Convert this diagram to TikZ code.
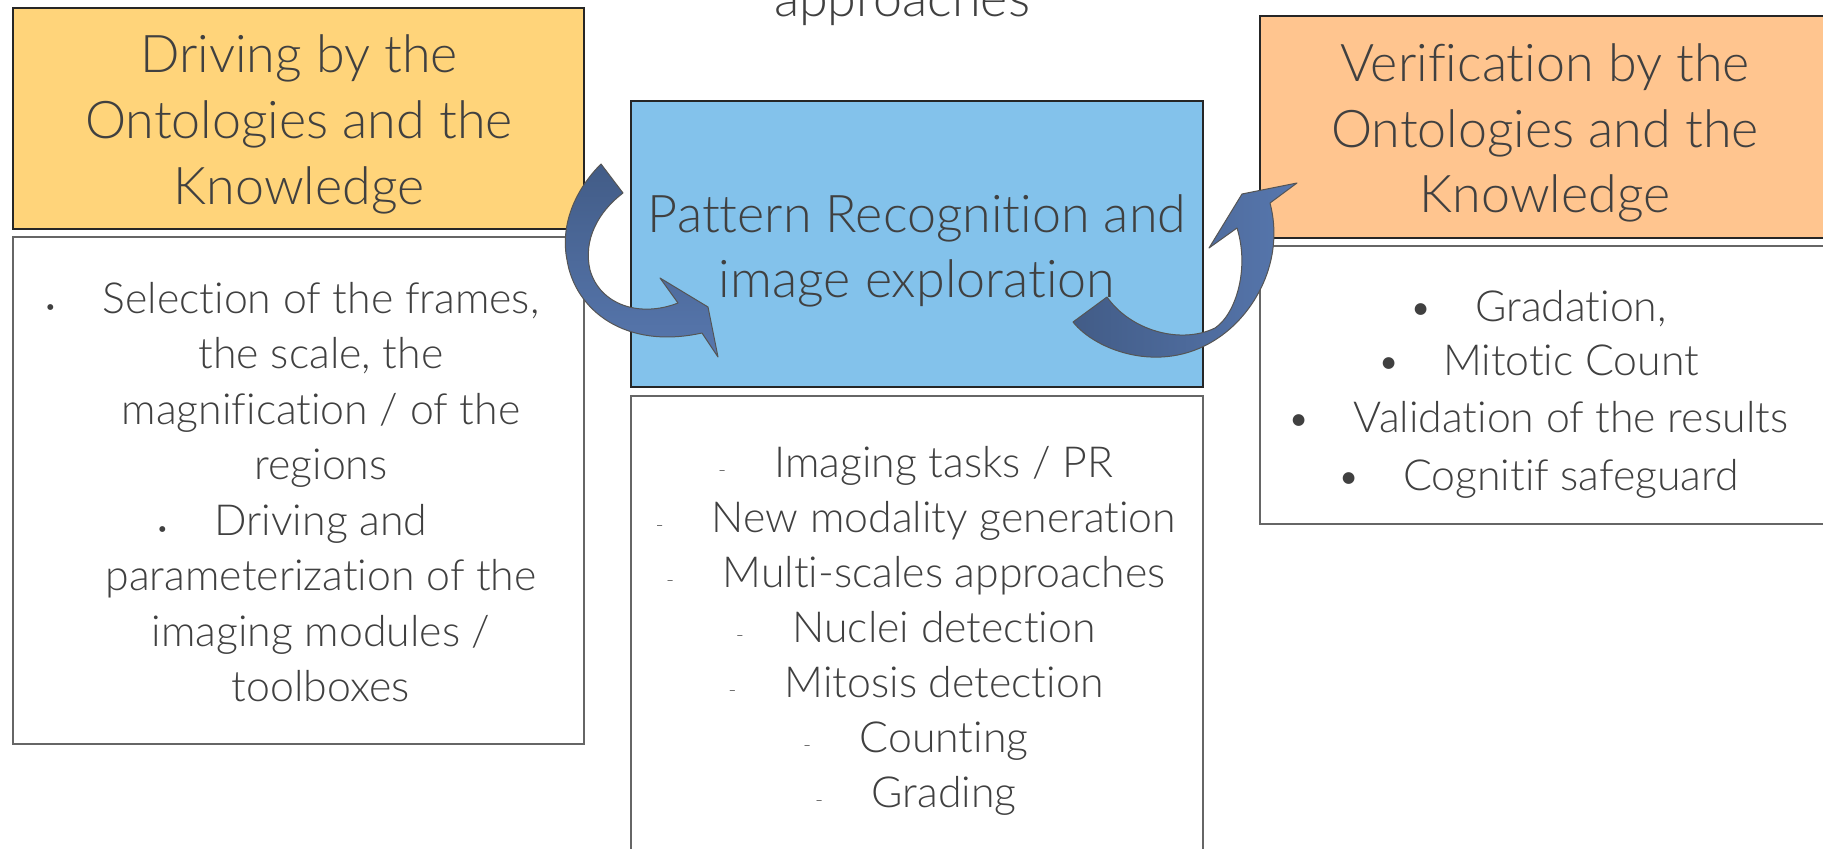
\documentclass[tikz,border=0pt]{standalone}
\usepackage{fontspec}
\setmainfont{Lato Light}[Ligatures=NoCommon]
\definecolor{txt}{HTML}{404040}
\definecolor{lofill}{HTML}{FFD47A}
\definecolor{rofill}{HTML}{FFC58F}
\definecolor{mbfill}{HTML}{83C2EB}
\definecolor{arrdark}{HTML}{425C87}
\definecolor{arrlight}{HTML}{5777AE}
\definecolor{arredge}{HTML}{555555}
\definecolor{dashcol}{HTML}{606060}
\begin{document}
\begin{tikzpicture}[x=0.5pt,y=-0.5pt,
  colbox/.style={draw=black!85, line width=0.7pt},
  whitebox/.style={draw=black!60, line width=0.7pt, fill=white},
  head/.style={font=\fontsize{26}{32}\selectfont, text=txt, inner sep=0pt, anchor=base},
  item/.style={font=\fontsize{21.4}{26}\selectfont, text=txt, inner sep=0pt, anchor=base},
  dotsmall/.style={font=\fontsize{10}{10}\selectfont, text=txt, inner sep=0pt, anchor=base},
  dotbig/.style={font=\fontsize{20}{20}\selectfont, text=txt, inner sep=0pt, anchor=base},
  dashmark/.style={font=\fontsize{11}{11}\selectfont, text=dashcol, inner sep=0pt, anchor=base},
  blockarrow/.style={draw=arredge, line width=0.5pt, line join=round}
]
\useasboundingbox (0,0) rectangle (1823,849);
\clip (0,0) rectangle (1823,849);
\fill[white] (0,0) rectangle (1823,849);

% boxes
\draw[colbox, fill=lofill] (13,8) rectangle (584,229);
\draw[whitebox] (13,237) rectangle (584,744);
\draw[colbox, fill=mbfill] (631,101) rectangle (1203,387);
\draw[whitebox] (631,396) rectangle (1203,870);
\draw[colbox, fill=rofill] (1260,16) rectangle (1840,238);
\draw[whitebox] (1260,246) rectangle (1840,524);

% top cut text
\node[head] (appr) at (902,17) {approaches};

% headings
\node[head] (lo1) at (299,73) {Driving by the};
\node[head] (lo2) at (299,139) {Ontologies and the};
\node[head] (lo3) at (299,205) {Knowledge};

\node[head] (mb1) at (917,233) {Pattern Recognition and};
\node[head] (mb2) at (917,298) {image exploration};

\node[head] (ro1) at (1545,82) {Verification by the};
\node[head] (ro2) at (1545,147.5) {Ontologies and the};
\node[head] (ro3) at (1545,213) {Knowledge};

% left list
\node[item] (lw1) at (321,314) {Selection of the frames,};
\node[item] (lw2) at (321,369) {the scale, the};
\node[item] (lw3) at (321,424) {magnification / of the};
\node[item] (lw4) at (321,480) {regions};
\node[item] (lw5) at (321,535) {Driving and};
\node[item] (lw6) at (321,590) {parameterization of the};
\node[item] (lw7) at (321,646) {imaging modules /};
\node[item] (lw8) at (321,701) {toolboxes};
\node[dotsmall] (lb1) at ([xshift=-26pt]lw1.base west) {•};
\node[dotsmall] (lb2) at ([xshift=-26pt]lw5.base west) {•};

% middle list
\node[item] (mw1) at (944,477) {Imaging tasks / PR};
\node[item] (mw2) at (944,532) {New modality generation};
\node[item] (mw3) at (944,587) {Multi-scales approaches};
\node[item] (mw4) at (944,642) {Nuclei detection};
\node[item] (mw5) at (944,697) {Mitosis detection};
\node[item] (mw6) at (944,752) {Counting};
\node[item] (mw7) at (944,807) {Grading};
\foreach \i in {1,...,7}{
  \node[dashmark] (md\i) at ([xshift=-26pt]mw\i.base west) {-};
}

% right list
\node[item] (rw1) at (1571,322) {Gradation,};
\node[item] (rw2) at (1571,376) {Mitotic Count};
\node[item] (rw3) at (1571,432) {Validation of the results};
\node[item] (rw4) at (1571,490) {Cognitif safeguard};
\foreach \i in {1,...,4}{
  \node[dotbig] (rb\i) at ([xshift=-27pt]rw\i.base west) {•};
}

% curved block arrows
\draw[blockarrow, top color=arrdark, bottom color=arrlight]
  (601,164) .. controls (575,190) and (560,225) .. (567,260)
  .. controls (575,310) and (625,350) .. (702,333)
  -- (718,357) -- (708,307) -- (660,278) -- (678,303)
  .. controls (640,318) and (600,305) .. (590,270)
  .. controls (583,240) and (598,212) .. (623,193) -- cycle;

\draw[blockarrow, left color=arrdark, right color=arrlight]
  (1073,322) .. controls (1095,350) and (1160,375) .. (1215,340)
  .. controls (1255,315) and (1285,260) .. (1270,203)
  -- (1297,183) -- (1242,194) -- (1209,248) -- (1237,228)
  .. controls (1250,270) and (1235,315) .. (1215,328)
  .. controls (1180,345) and (1130,330) .. (1107,297) -- cycle;
\end{tikzpicture}
\end{document}
